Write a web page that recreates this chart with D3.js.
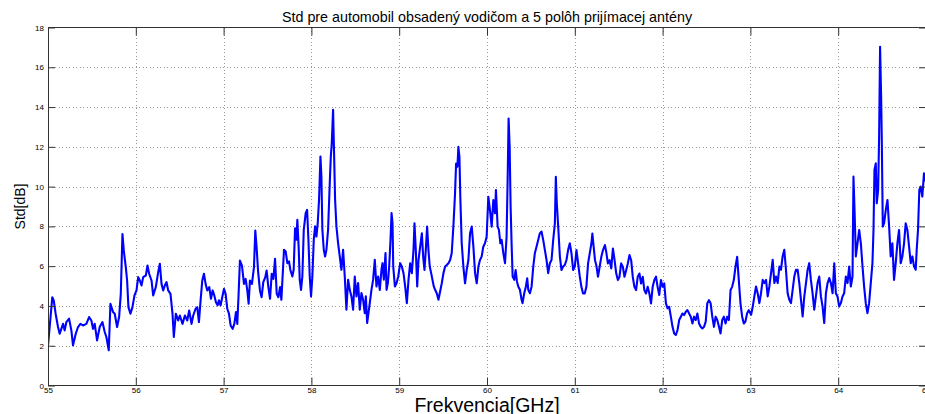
<!DOCTYPE html>
<html>
<head>
<meta charset="utf-8">
<script src="https://cdn.jsdelivr.net/npm/d3@7/dist/d3.min.js"></script>
<style>
  html, body { margin: 0; padding: 0; background: #fff; }
  svg { display: block; }
  text { font-family: "Liberation Sans", Arial, Helvetica, sans-serif; fill: #000; }
</style>
</head>
<body>
<svg id="chart" width="925" height="414"></svg>
<script>
// Frequency sweep, GHz
const freq = [
  55.000,55.019,55.049,55.065,55.087,55.114,55.133,55.152,55.171,55.190,55.209,55.240,55.266,55.285,55.316,55.342,55.369,55.399,55.437,55.468,
  55.494,55.513,55.532,55.559,55.589,55.620,55.646,55.665,55.692,55.711,55.741,55.760,55.787,55.810,55.829,55.848,55.863,55.886,55.901,55.916,
  55.939,55.962,55.985,56.008,56.027,56.046,56.065,56.084,56.114,56.133,56.152,56.179,56.198,56.228,56.255,56.274,56.293,56.312,56.331,56.350,
  56.369,56.395,56.418,56.433,56.456,56.483,56.502,56.532,56.559,56.586,56.608,56.635,56.654,56.681,56.700,56.719,56.738,56.757,56.776,56.795,
  56.814,56.837,56.856,56.875,56.894,56.913,56.932,56.947,56.966,56.981,57.004,57.023,57.042,57.061,57.080,57.103,57.122,57.141,57.156,57.171,
  57.186,57.209,57.232,57.251,57.270,57.285,57.300,57.323,57.346,57.361,57.376,57.392,57.414,57.433,57.452,57.475,57.490,57.510,57.529,57.548,
  57.567,57.586,57.605,57.624,57.643,
  57.658,57.688,57.707,57.726,57.745,57.760,57.783,57.798,57.814,57.829,57.840,57.856,57.867,57.882,57.897,57.913,57.935,57.951,57.966,57.981,
  57.996,58.011,58.027,58.042,58.057,58.072,58.087,58.103,58.114,58.125,58.141,58.156,58.171,58.190,58.209,58.221,58.232,58.247,58.259,58.270,
  58.285,58.304,58.323,58.342,58.361,58.380,58.399,58.418,58.437,58.456,58.475,58.494,58.513,58.532,58.551,58.570,58.589,58.608,58.620,58.635,
  58.650,58.665,58.684,58.703,58.722,58.741,58.760,58.779,58.798,58.810,58.825,58.844,58.856,58.871,58.886,58.901,58.913,58.924,58.932,58.951,
  58.970,58.989,
  59.011,59.030,59.049,59.068,59.087,59.106,59.125,59.144,59.163,59.174,59.189,59.205,59.220,59.239,59.258,59.273,59.288,59.303,59.318,59.333,
  59.348,59.364,59.379,59.394,59.409,59.428,59.447,59.466,59.485,59.504,59.523,59.542,59.561,59.580,59.598,59.617,59.636,59.648,59.663,59.674,
  59.686,59.697,59.712,59.731,59.750,59.769,59.788,59.807,59.826,59.845,59.864,59.883,59.902,59.920,59.939,59.958,59.977,59.996,60.015,60.034,
  60.053,60.072,60.091,60.102,60.121,60.136,60.152,60.167,60.186,60.205,60.223,60.235,60.246,60.258,60.269,60.280,60.292,60.311,60.326,60.341,
  60.356,60.375,60.394,60.405,60.424,60.443,60.458,60.470,60.489,60.508,60.527,60.545,60.564,60.583,60.602,60.621,60.640,60.659,60.678,60.697,
  60.716,60.735,60.754,60.773,60.784,60.795,60.811,60.830,60.848,60.867,60.886,60.905,60.924,60.943,60.962,60.981,61.000,
  61.019,61.038,61.057,61.075,61.094,61.113,61.132,61.151,61.170,61.189,61.200,61.215,61.230,61.245,61.264,61.283,61.302,61.321,61.343,61.358,
  61.377,61.396,61.415,61.434,61.453,61.472,61.491,61.509,61.528,61.547,61.566,61.585,61.604,61.623,61.642,61.660,61.679,61.698,61.717,61.736,
  61.755,61.774,61.792,61.811,61.830,61.849,61.868,61.887,61.906,61.925,61.943,61.962,61.981,62.000,62.019,62.038,62.057,62.075,62.094,62.113,
  62.132,62.151,62.170,62.189,62.208,62.226,62.245,62.264,62.283,62.302,62.321,62.340,62.358,62.377,62.396,62.415,62.434,62.453,62.472,62.491,
  62.509,62.528,62.547,62.566,62.585,62.604,62.623,62.642,62.660,62.679,62.698,62.717,62.736,62.755,62.774,62.792,62.811,62.830,62.849,62.868,
  62.887,62.906,62.925,62.943,62.962,62.981,
  63.008,63.027,63.045,63.064,63.083,63.102,63.121,63.140,63.159,63.178,63.197,63.216,63.235,63.254,63.273,63.292,63.311,63.330,63.348,63.367,
  63.386,63.405,63.424,63.443,63.462,63.481,63.500,63.519,63.538,63.557,63.576,63.595,63.614,63.633,63.652,63.670,63.689,63.708,63.727,63.746,
  63.765,63.784,63.803,63.822,63.841,63.860,63.879,63.898,63.917,63.936,63.955,63.973,63.992,64.011,64.030,64.049,64.068,64.087,64.106,64.125,
  64.144,64.163,64.174,64.186,64.201,64.220,64.239,64.258,64.277,64.295,64.314,64.333,64.352,64.371,64.390,64.402,64.413,64.428,64.439,64.455,
  64.466,64.477,64.489,64.496,64.508,64.523,64.542,64.561,64.580,64.598,64.617,64.636,64.655,64.674,64.693,64.712,64.731,64.750,64.769,64.788,
  64.807,64.826,64.845,64.864,64.883,64.894,64.909,64.924,64.939,64.958,64.977,65.000
];

// Standard deviation over the five antenna positions, dB
const stdDb = [
  2.00,2.94,4.44,4.28,3.61,2.94,2.60,2.85,3.10,2.77,3.19,3.36,2.77,2.02,2.60,2.94,3.10,3.02,3.10,3.44,
  3.27,2.85,3.10,2.27,2.94,3.19,2.69,2.44,1.77,4.11,3.69,3.61,2.94,3.44,4.61,7.62,6.79,5.95,5.28,3.94,
  3.61,3.94,4.53,4.78,5.45,5.28,5.03,5.45,5.53,6.03,5.62,5.28,4.53,4.95,5.70,6.12,5.11,4.78,5.03,5.20,
  4.78,4.61,3.61,2.44,3.61,3.27,3.52,3.10,3.52,3.27,3.77,3.10,3.52,3.86,3.94,3.19,4.28,5.28,5.62,5.11,
  4.78,4.95,4.36,4.78,4.53,4.19,4.03,4.28,4.03,4.36,4.86,4.61,3.86,3.61,3.02,2.85,3.10,3.69,3.10,4.61,
  6.28,6.03,5.11,5.36,4.78,4.11,5.28,5.11,5.95,7.79,6.95,5.78,4.78,4.44,5.20,5.45,5.78,4.95,4.36,5.62,
  5.36,6.37,4.61,4.44,4.95,
  4.31,6.82,6.74,6.15,6.24,5.82,5.48,5.82,7.91,7.33,8.33,6.82,5.32,4.81,5.48,7.83,8.67,8.83,7.33,5.48,
  4.48,5.48,7.33,8.00,7.49,8.16,9.34,11.51,10.51,7.83,6.82,6.49,6.82,7.83,10.17,11.51,12.18,13.86,11.51,9.34,
  8.00,7.16,6.49,5.82,6.82,5.48,3.81,5.32,4.81,4.48,3.81,5.48,4.48,5.15,3.81,4.65,4.31,3.64,4.48,3.14,
  3.64,4.14,4.81,5.32,6.32,4.98,5.48,4.81,5.82,6.15,5.32,6.66,4.81,5.15,5.99,7.33,8.67,8.16,5.99,4.98,
  5.15,5.48,
  6.15,5.98,5.65,4.98,4.14,5.31,6.15,5.65,6.82,8.15,6.82,4.98,6.31,6.98,7.65,6.48,5.81,6.82,7.99,6.82,
  5.98,5.65,5.31,4.98,4.81,4.64,4.31,4.73,5.14,5.65,5.98,6.06,6.15,6.31,6.65,7.99,9.66,11.16,11.00,12.00,
  11.50,9.32,7.15,5.98,5.14,5.81,6.31,7.65,7.99,6.98,5.65,5.14,5.98,6.31,6.48,6.98,7.15,7.48,9.49,8.82,
  7.99,9.32,8.66,9.83,7.99,7.82,7.15,7.32,6.65,6.15,7.48,10.33,13.42,12.00,8.99,7.15,5.48,5.31,5.81,5.23,
  4.98,4.81,4.31,4.14,4.64,4.98,5.39,4.81,4.64,4.98,5.98,6.65,6.98,7.32,7.65,7.74,7.32,6.82,6.31,5.65,
  6.15,6.31,7.32,8.15,10.49,9.16,7.99,6.48,5.81,5.98,6.06,6.31,6.82,7.15,6.65,5.81,5.98,
  6.81,6.14,5.47,4.96,4.63,4.63,4.96,6.14,6.64,7.14,7.64,6.97,6.30,6.05,5.47,5.97,6.47,6.81,7.06,6.72,
  6.14,6.30,5.89,6.89,6.30,5.63,5.30,5.47,6.14,5.97,5.47,5.80,6.14,6.56,6.30,5.47,4.96,4.80,5.47,5.63,
  5.13,5.47,4.80,4.63,4.96,4.63,4.13,4.96,5.30,5.47,4.96,4.55,5.30,4.96,5.13,4.13,3.88,3.96,3.46,2.95,
  2.62,2.54,2.79,3.29,3.46,3.62,3.54,3.71,3.79,3.62,3.46,3.12,3.46,3.29,3.62,3.12,2.95,2.87,2.95,3.21,
  4.13,4.29,4.13,3.46,2.95,3.46,3.29,2.95,2.62,3.29,3.46,3.12,3.46,3.29,4.80,4.96,5.30,5.97,6.47,5.30,
  4.13,3.46,3.12,3.21,3.62,3.79,
  3.56,3.97,4.48,4.98,4.64,4.14,4.64,5.31,5.15,5.31,4.48,4.98,5.65,6.32,5.15,5.48,5.15,5.98,5.82,6.49,
  6.82,5.82,4.64,4.31,4.14,4.81,5.48,5.82,5.82,5.15,4.31,3.47,4.48,5.15,5.82,6.15,5.31,4.64,3.81,4.48,
  5.15,5.48,4.48,3.97,3.14,4.64,5.15,5.40,5.15,4.64,6.15,4.64,4.48,3.97,4.14,4.48,4.64,5.48,5.15,5.98,
  4.98,5.48,10.50,8.83,6.49,7.15,7.82,7.15,5.98,4.98,4.14,3.64,4.14,5.15,6.15,7.82,10.84,11.17,9.16,9.83,
  12.51,17.03,14.52,12.51,7.99,8.16,8.83,9.33,7.99,6.49,7.15,5.31,6.15,7.15,7.82,6.15,6.49,7.15,8.16,7.82,
  6.99,6.15,6.49,5.98,5.82,6.82,7.82,9.83,10.00,9.50,10.67,10.20
];

const xTicks = [55, 56, 57, 58, 59, 60, 61, 62, 63, 64, 65];
const yTicks = [0, 2, 4, 6, 8, 10, 12, 14, 16, 18];

const titleText = "Std pre automobil obsadený vodičom a 5 polôh prijímacej antény";
const xLabelText = "Frekvencia[GHz]";
const yLabelText = "Std[dB]";

const points = freq.map((f, i) => ({ f, v: stdDb[i] }));

const svg = d3.select("#chart");
const W = 925, H = 414;
const plot = { left: 48, right: 926, top: 27.5, bottom: 385.5 };

svg.append("rect").attr("width", W).attr("height", H).attr("fill", "#fff");

const x = d3.scaleLinear().domain([55, 65]).range([plot.left, plot.right]);
const y = d3.scaleLinear().domain([0, 18]).range([plot.bottom, plot.top]);

// dotted grid
const grid = svg.append("g").attr("stroke", "#9a9a9a").attr("stroke-width", 1)
  .attr("stroke-dasharray", "1,2.5").attr("shape-rendering", "crispEdges");
grid.selectAll("line.gx").data(xTicks.slice(1, -1)).join("line")
  .attr("class", "gx")
  .attr("x1", d => Math.round(x(d)) + 0.5).attr("x2", d => Math.round(x(d)) + 0.5)
  .attr("y1", plot.top).attr("y2", plot.bottom);
grid.selectAll("line.gy").data(yTicks.slice(1, -1)).join("line")
  .attr("class", "gy")
  .attr("y1", d => Math.round(y(d)) + 0.5).attr("y2", d => Math.round(y(d)) + 0.5)
  .attr("x1", plot.left).attr("x2", plot.right);

// data trace
svg.append("clipPath").attr("id", "clip").append("rect")
  .attr("x", plot.left).attr("y", plot.top)
  .attr("width", plot.right - plot.left).attr("height", plot.bottom - plot.top);

const line = d3.line().x(d => x(d.f)).y(d => y(d.v));
svg.append("path").datum(points)
  .attr("clip-path", "url(#clip)")
  .attr("d", line)
  .attr("fill", "none")
  .attr("stroke", "#0000ff")
  .attr("stroke-width", 2.1)
  .attr("stroke-linejoin", "round");

// axes with inward ticks on all four sides
const tickFont = g => g.selectAll("text")
  .style("font-family", "'Liberation Sans', Arial, sans-serif")
  .style("font-size", "8px").attr("fill", "#222");
const styleAxis = g => {
  g.select(".domain").remove();
  g.selectAll(".tick line").attr("stroke", "#333");
};

svg.append("g").attr("transform", `translate(0,${plot.bottom})`)
  .call(d3.axisBottom(x).tickValues(xTicks).tickSize(-8).tickPadding(2).tickFormat(d3.format("d")))
  .call(styleAxis).call(tickFont);
svg.append("g").attr("transform", `translate(0,${plot.top})`)
  .call(d3.axisTop(x).tickValues(xTicks).tickSize(-8).tickFormat(""))
  .call(styleAxis);
svg.append("g").attr("transform", `translate(${plot.left},0)`)
  .call(d3.axisLeft(y).tickValues(yTicks).tickSize(-7).tickPadding(4).tickFormat(d3.format("d")))
  .call(styleAxis).call(tickFont);
svg.append("g").attr("transform", `translate(${plot.right},0)`)
  .call(d3.axisRight(y).tickValues(yTicks).tickSize(-7).tickFormat(""))
  .call(styleAxis);

// frame
svg.append("rect")
  .attr("x", plot.left + 0.5).attr("y", plot.top)
  .attr("width", plot.right - plot.left).attr("height", plot.bottom - plot.top)
  .attr("fill", "none").attr("stroke", "#333").attr("stroke-width", 1);

// titles
svg.append("text")
  .attr("x", (plot.left + plot.right) / 2).attr("y", 22)
  .attr("text-anchor", "middle").style("font-size", "14.3px")
  .text(titleText);

svg.append("text")
  .attr("x", (plot.left + plot.right) / 2).attr("y", 411.5)
  .attr("text-anchor", "middle").style("font-size", "19.5px")
  .text(xLabelText);

svg.append("text")
  .attr("transform", `translate(25,${(plot.top + plot.bottom) / 2}) rotate(-90)`)
  .attr("text-anchor", "middle").style("font-size", "14px")
  .text(yLabelText);
</script>
</body>
</html>
